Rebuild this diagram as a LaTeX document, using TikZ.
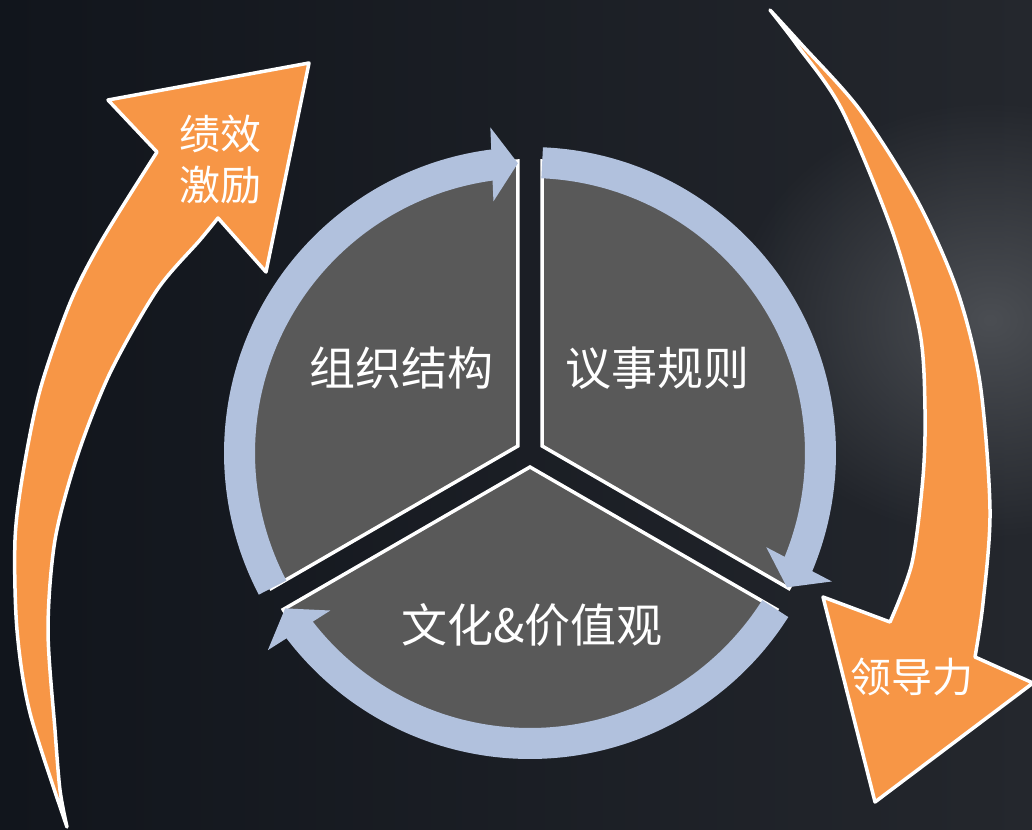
\documentclass[tikz,border=0pt]{standalone}
\usepackage{fontspec}
\newfontfamily\cjkfont{Noto Sans CJK SC}
\usetikzlibrary{fadings}

\definecolor{ringblue}{HTML}{B1C1DD}
\definecolor{sectorgray}{HTML}{595959}
\definecolor{arroworange}{HTML}{F79646}
\definecolor{bgleft}{HTML}{11151C}
\definecolor{bgright}{HTML}{24272D}
\definecolor{glow}{HTML}{4B4E53}
\tikzfading[name=glowfade, inner color=transparent!0, outer color=transparent!100]

\tikzset{
  sectorfill/.style={fill=sectorgray, draw=white, line width=3.5pt},
  ringband/.style={draw=ringblue, line width=31pt},
  ringhead/.style={fill=ringblue},
  bigarrow/.style={fill=arroworange, draw=white, line width=3.5pt, line join=round},
  sectortext/.style={text=white, font=\cjkfont\fontsize{46}{55}\selectfont},
  arrowtext/.style={text=white, font=\cjkfont\fontsize{41}{51}\selectfont, align=center}
}

\begin{document}
\begin{tikzpicture}[x=1pt, y=-1pt]
    % Background
    \useasboundingbox (0,0) rectangle (1032,829);
    \shade[left color=bgleft, right color=bgright] (0,0) rectangle (1032,829);
    \fill[glow, path fading=glowfade] (990,320) ellipse (260 and 220);

    % Wheel
    \begin{scope}[shift={(530,453)}, y=1pt]
        % Sectors
        \filldraw[sectorfill] (150:14) -- ++(90:285) arc[start angle=90, end angle=210, radius=285] -- cycle;
        \filldraw[sectorfill] (30:14) -- ++(-30:285) arc[start angle=-30, end angle=90, radius=285] -- cycle;
        \filldraw[sectorfill] (270:14) -- ++(210:285) arc[start angle=210, end angle=330, radius=285] -- cycle;

        % Ring
        \begin{scope}[rotate=92.4]
            \draw[ringband] (115.2:290.5) arc[start angle=115.2, end angle=4, radius=290.5];
            \fill[ringhead] (290,0) -- (327,26) -- (253,26) -- cycle;
        \end{scope}
        \begin{scope}[rotate=-27.6]
            \draw[ringband] (115.2:290.5) arc[start angle=115.2, end angle=4, radius=290.5];
            \fill[ringhead] (290,0) -- (327,26) -- (253,26) -- cycle;
        \end{scope}
        \begin{scope}[rotate=-147.6]
            \draw[ringband] (115.2:290.5) arc[start angle=115.2, end angle=4, radius=290.5];
            \fill[ringhead] (290,0) -- (327,26) -- (253,26) -- cycle;
        \end{scope}
    \end{scope}

    % Orange arrows
    \filldraw[bigarrow] plot[smooth] coordinates {(67,827) (30,713) (17,630) (15,540) (23,473) (40,390) (70,303) (102,240) (157,152)}
        -- (108,100) -- (309,63) -- (266,272) -- (218,218)
        -- plot[smooth] coordinates {(218,218) (200,240) (157,290) (110,373) (77,457) (55,540) (48,630) (55,730) (60,790) (67,827)} -- cycle;
    \filldraw[bigarrow] plot[smooth] coordinates {(770,10) (802,45) (860,110) (917,200) (957,290) (980,383) (990,510) (983,603) (975,657)}
        -- (1033,683) -- (875,802) -- (823,597) -- (890,622)
        -- plot[smooth] coordinates {(890,622) (912,563) (923,477) (925,410) (920,333) (893,233) (842,110) (797,45) (770,10)} -- cycle;

    % Texts
    \node[sectortext] (org) at (401,368) {组织结构};
    \node[sectortext] (rules) at (657,368) {议事规则};
    \node[sectortext] (culture) at (532,625) {文化\&价值观};
    \node[arrowtext] (perf) at (220,160) {绩效\\激励};
    \node[arrowtext] (lead) at (912,677) {领导力};
\end{tikzpicture}
\end{document}
